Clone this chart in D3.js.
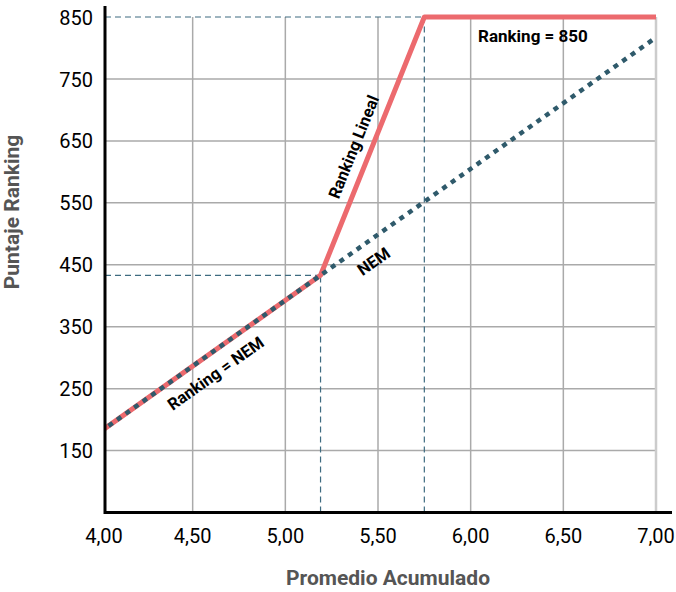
<!DOCTYPE html>
<html>
<head>
<meta charset="utf-8">
<script src="https://cdn.jsdelivr.net/npm/d3@7"></script>
<style>
  body { margin: 0; background: #fff; }
  svg { display: block; font-family: Roboto, "Noto Sans", sans-serif; }
</style>
</head>
<body>
<div id="chart"></div>
<script>
// data
const nemX = [4.0, 5.19, 7.0]
const nemY = [180, 433, 817]
const rankX = [4.0, 5.19, 5.75, 7.0]
const rankY = [180, 433, 850, 850]
const cutX = [5.19, 5.75]      // vertical guides
const cutY = [433, 850]        // horizontal guides
const xTicks = [4.0, 4.5, 5.0, 5.5, 6.0, 6.5, 7.0]
const yTicks = [150, 250, 350, 450, 550, 650, 750, 850]

const width = 676,
      height = 592,
      axisX = 105,       // left axis sits a bit right of x=4
      redColor = "#ec6a6e",
      nemColor = "#2f5a6b",
      guideColor = "#3e6b80",
      gridColor = "#aaaaaa",
      fontSize = 20

const xScale = d3.scaleLinear([4, 7], [100, 656])
const yScale = d3.scaleLinear([50, 850], [512.5, 17])

const svg = d3.select("#chart").append("svg")
      .attr("width", width)
      .attr("height", height)
      .attr("viewBox", [0, 0, width, height])

svg.append("clipPath")
      .attr("id", "plot-clip")
      .append("rect")
      .attr("x", axisX)
      .attr("y", 0)
      .attr("width", width - axisX)
      .attr("height", yScale(50))

// grid
svg.append("g")
      .attr("stroke", gridColor)
      .attr("stroke-width", 1.5)
      .selectAll("line")
      .data(yTicks.filter(d => d < 850))
      .join("line")
      .attr("x1", axisX)
      .attr("x2", xScale(7))
      .attr("y1", d => yScale(d))
      .attr("y2", d => yScale(d))

svg.append("g")
      .selectAll("line")
      .data(xTicks.slice(1))
      .join("line")
      .attr("stroke", d => d === 7 ? "#cccccc" : gridColor)
      .attr("stroke-width", d => d === 7 ? 2.5 : 1.5)
      .attr("x1", d => xScale(d))
      .attr("x2", d => xScale(d))
      .attr("y1", yScale(50))
      .attr("y2", yScale(850))

// dashed guides
const guides = svg.append("g")
      .attr("stroke", guideColor)
      .attr("stroke-width", 1.2)
      .attr("stroke-dasharray", "6 4")
guides.selectAll(".h")
      .data(d3.range(cutX.length))
      .join("line")
      .attr("x1", axisX)
      .attr("x2", i => xScale(cutX[i]))
      .attr("y1", i => yScale(cutY[i]))
      .attr("y2", i => yScale(cutY[i]))
guides.selectAll(".v")
      .data(d3.range(cutX.length))
      .join("line")
      .attr("x1", i => xScale(cutX[i]))
      .attr("x2", i => xScale(cutX[i]))
      .attr("y1", yScale(50))
      .attr("y2", i => yScale(cutY[i]))

// lines
const line = d3.line()
      .x(d => xScale(d[0]))
      .y(d => yScale(d[1]))

const plot = svg.append("g").attr("clip-path", "url(#plot-clip)")

plot.append("path")
      .attr("fill", "none")
      .attr("stroke", redColor)
      .attr("stroke-width", 5)
      .attr("stroke-linejoin", "round")
      .attr("d", line(d3.zip(rankX, rankY)))

plot.append("path")
      .attr("fill", "none")
      .attr("stroke", nemColor)
      .attr("stroke-width", 4.5)
      .attr("stroke-dasharray", "5 5.5")
      .attr("d", line(d3.zip(nemX, nemY)))

// axes
svg.append("line")
      .attr("stroke", "#000")
      .attr("stroke-width", 3)
      .attr("x1", axisX)
      .attr("x2", 672)
      .attr("y1", yScale(50))
      .attr("y2", yScale(50))

svg.append("line")
      .attr("stroke", "#000")
      .attr("stroke-width", 3)
      .attr("x1", axisX)
      .attr("x2", axisX)
      .attr("y1", 6)
      .attr("y2", yScale(50) + 1.5)

svg.append("g")
      .attr("font-size", fontSize)
      .attr("text-anchor", "end")
      .selectAll("text")
      .data(yTicks)
      .join("text")
      .attr("x", 93)
      .attr("y", d => yScale(d))
      .attr("dy", "0.38em")
      .text(d => d)

svg.append("g")
      .attr("font-size", fontSize)
      .attr("text-anchor", "middle")
      .selectAll("text")
      .data(xTicks)
      .join("text")
      .attr("x", d => Math.max(xScale(d), axisX - 1))
      .attr("y", 543)
      .text(d => d3.format(".2f")(d).replace(".", ","))

// axis titles
svg.append("text")
      .attr("x", 388)
      .attr("y", 585)
      .attr("text-anchor", "middle")
      .attr("font-size", 21)
      .attr("font-weight", "bold")
      .attr("fill", "#555")
      .text("Promedio Acumulado")

svg.append("text")
      .attr("transform", "translate(19,212) rotate(-90)")
      .attr("text-anchor", "middle")
      .attr("font-size", 21)
      .attr("font-weight", "bold")
      .attr("fill", "#555")
      .text("Puntaje Ranking")

// annotations
const angle = (x0, y0, x1, y1) =>
      Math.atan2(yScale(y1) - yScale(y0), xScale(x1) - xScale(x0)) * 180 / Math.PI

const notes = svg.append("g")
      .attr("font-size", 16.5)
      .attr("font-weight", "bold")
      .attr("text-anchor", "middle")

notes.append("text")
      .attr("transform", `translate(219,378) rotate(${angle(nemX[0], nemY[0], nemX[1], nemY[1])})`)
      .text("Ranking = NEM")

notes.append("text")
      .attr("transform", `translate(377,266) rotate(${angle(nemX[1], nemY[1], nemX[2], nemY[2])})`)
      .text("NEM")

notes.append("text")
      .attr("transform", `translate(359,149) rotate(${angle(rankX[1], rankY[1], rankX[2], rankY[2])})`)
      .text("Ranking Lineal")

notes.append("text")
      .attr("x", 478)
      .attr("y", 42)
      .attr("text-anchor", "start")
      .attr("font-size", 17)
      .text("Ranking = 850")
</script>
</body>
</html>
